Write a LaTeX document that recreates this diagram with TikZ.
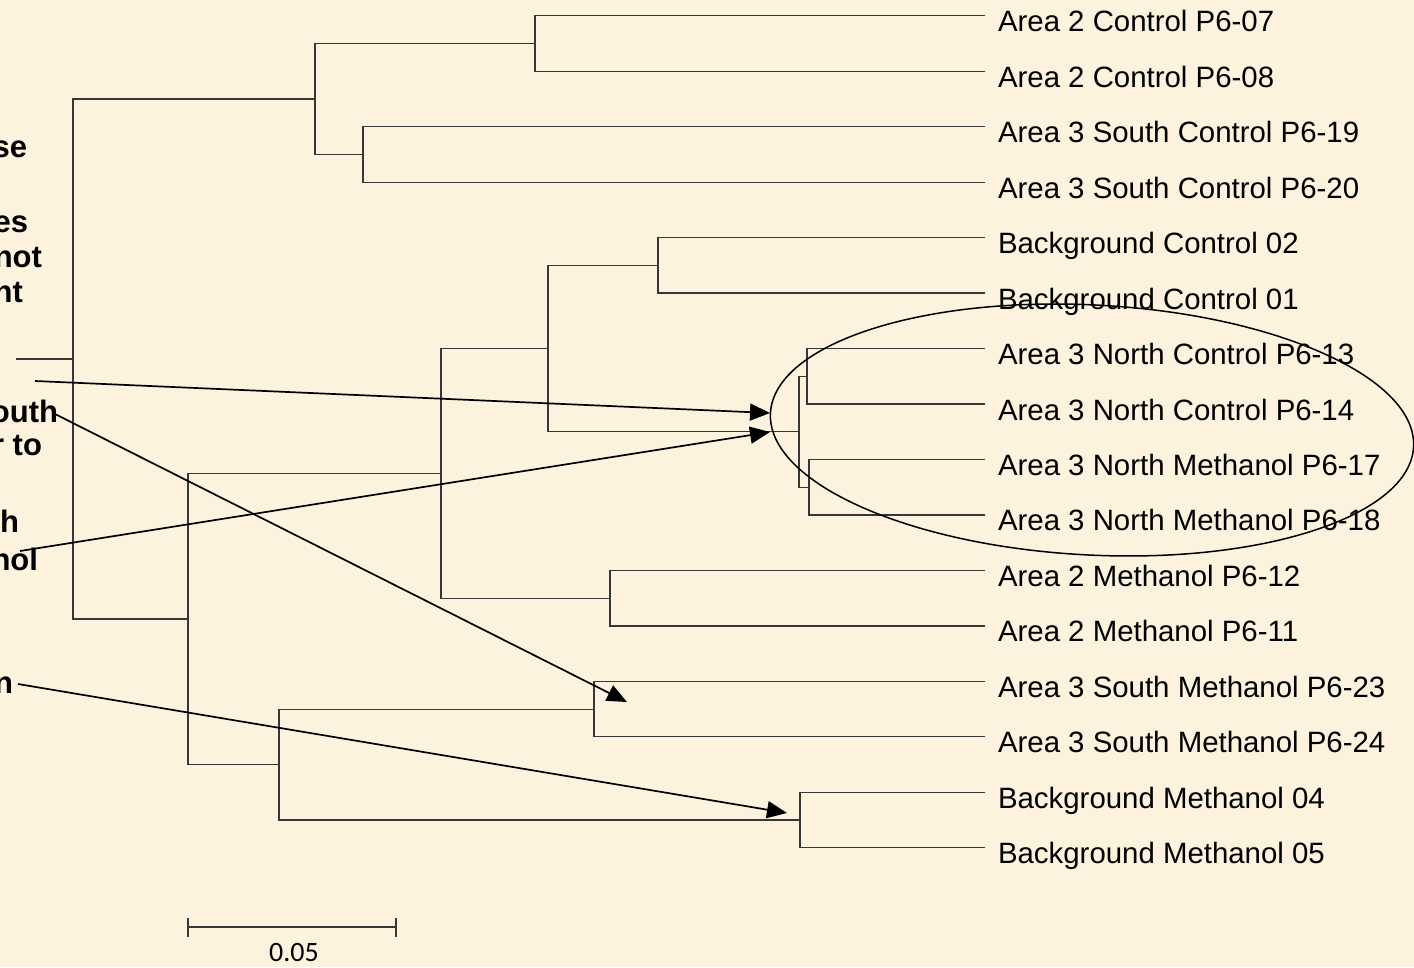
\documentclass[tikz,border=0pt]{standalone}
\usepackage{fontspec}
\setmainfont{Liberation Sans}
\newfontfamily\barfont{Carlito}
\usetikzlibrary{arrows.meta}
\definecolor{parch}{RGB}{252,242,222}
\definecolor{treeline}{RGB}{55,55,55}
\begin{document}
\begin{tikzpicture}[x=1pt,y=-1pt,
  branch/.style={draw=treeline,line width=1.2pt},
  leaflabel/.style={anchor=base west,inner sep=0pt,outer sep=0pt,font=\fontsize{29.4}{34}\selectfont},
  frag/.style={anchor=base east,inner sep=0pt,outer sep=0pt,font=\fontsize{31}{35}\selectfont\bfseries},
  pointer/.style={draw=black,line width=1.7pt,-{Triangle[length=20pt,width=17pt]}},
  ring/.style={draw=black,line width=1.5pt},
]
\useasboundingbox (0,0) rectangle (1414,967);
\clip (0,0) rectangle (1414,967);
\fill[parch] (0,0) rectangle (1414,967);

% leaves: line ends and labels
\foreach \i/\y/\t in {1/15.7/Area 2 Control P6-07,
                      2/71.2/Area 2 Control P6-08,
                      3/126.6/Area 3 South Control P6-19,
                      4/182.1/Area 3 South Control P6-20,
                      5/237.6/Background Control 02,
                      6/293.0/Background Control 01,
                      7/348.5/Area 3 North Control P6-13,
                      8/404.0/Area 3 North Control P6-14,
                      9/459.4/Area 3 North Methanol P6-17,
                      10/514.9/Area 3 North Methanol P6-18,
                      11/570.4/Area 2 Methanol P6-12,
                      12/625.9/Area 2 Methanol P6-11,
                      13/681.3/Area 3 South Methanol P6-23,
                      14/736.8/Area 3 South Methanol P6-24,
                      15/792.3/Background Methanol 04,
                      16/847.7/Background Methanol 05}{
  \coordinate (l\i) at (985,\y);
  \node[leaflabel] (t\i) at (998,\y+16) {\t};
}

% internal nodes
\coordinate (nA) at (535,43.4);
\coordinate (nC) at (363,154.3);
\coordinate (nB) at (315,98.9);
\coordinate (nH) at (658,265.3);
\coordinate (nJ) at (807,376.2);
\coordinate (nK) at (809,487.2);
\coordinate (nI) at (799,431.7);
\coordinate (nG) at (548,348.5);
\coordinate (nL) at (610,598.1);
\coordinate (nE) at (441,473.3);
\coordinate (nM) at (594,709.1);
\coordinate (nN) at (800,820.0);
\coordinate (nF) at (279,764.5);
\coordinate (nD) at (188,618.9);
\coordinate (nR) at (73,358.9);
\coordinate (stem) at (16,358.9);

% branches (child -| parent)
\foreach \c/\p in {l1/nA,l2/nA,l3/nC,l4/nC,nA/nB,nC/nB,
                   l5/nH,l6/nH,l7/nJ,l8/nJ,l9/nK,l10/nK,nJ/nI,nK/nI,
                   nH/nG,nI/nG,l11/nL,l12/nL,nG/nE,nL/nE,
                   l13/nM,l14/nM,l15/nN,l16/nN,nM/nF,nN/nF,
                   nE/nD,nF/nD,nB/nR,nD/nR}{
  \draw[branch] (\c) -| (\p);
}
\draw[branch] (stem) -- (nR);

% scale bar
\coordinate (sb1) at (188,927);
\coordinate (sb2) at (396,927);
\draw[branch] (sb1) -- (sb2);
\draw[branch] ([yshift=-10pt]sb1) -- ([yshift=9pt]sb1);
\draw[branch] ([yshift=-10pt]sb2) -- ([yshift=9pt]sb2);
\node[inner sep=0pt,anchor=base,font=\barfont\fontsize{28}{32}\selectfont] (sblabel) at (294,961) {0.05};

% clipped explanatory text fragments at the left edge
\node[frag] (f1) at (27,157) {se};
\node[frag] (f2) at (28,232) {es};
\node[frag] (f3) at (42,267) {not};
\node[frag] (f4) at (23,302) {nt};
\node[frag] (f5) at (58,422) {outh};
\node[frag] (f6) at (42,455) {r to};
\node[frag] (f7) at (19,532) {h};
\node[frag] (f8) at (38,570) {nol};
\node[frag] (f9) at (13,693) {n};

% ellipse round the Area 3 North samples
\coordinate (ringc) at (1092,430);
\draw[ring] (ringc) ellipse [x radius=322, y radius=125, rotate=-3];

% arrows
\coordinate (a1s) at (35,381);
\coordinate (a1e) at (770,413);
\coordinate (a2s) at (20,551);
\coordinate (a2e) at (770,432);
\coordinate (a3s) at (53,413);
\coordinate (a3e) at (627,702);
\coordinate (a4s) at (18,684);
\coordinate (a4e) at (787,813);
\draw[pointer] (a1s) -- (a1e);
\draw[pointer] (a2s) -- (a2e);
\draw[pointer] (a3s) -- (a3e);
\draw[pointer] (a4s) -- (a4e);
\end{tikzpicture}
\end{document}
